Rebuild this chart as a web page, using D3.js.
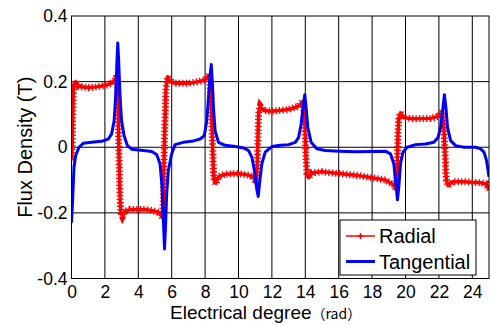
<!DOCTYPE html>
<html>
<head>
<meta charset="utf-8">
<script src="https://cdn.jsdelivr.net/npm/d3@7"></script>
<style>
	body { margin: 0; background: #ffffff; }
	text { font-family: "Liberation Sans", Arial, sans-serif; fill: #000; }
</style>
</head>
<body>
<svg id="chart" width="491" height="325"></svg>
<script>
// [electrical degree (rad), flux density (T)]
var radialData = [
	[0.02, -0.04], [0.04, 0.0], [0.06, 0.05], [0.08, 0.1], [0.1, 0.15], [0.13, 0.19], [0.25, 0.2],
	[0.45, 0.185], [1.0, 0.182], [1.5, 0.184], [2.0, 0.188], [2.4, 0.195], [2.6, 0.205], [2.72, 0.22],
	[2.78, 0.17], [2.8, 0.1], [2.82, 0.03], [2.85, -0.04], [2.88, -0.11], [2.92, -0.17], [2.96, -0.2],
	[3.05, -0.21], [3.2, -0.195], [3.5, -0.19], [4.0, -0.19], [4.5, -0.19], [5.0, -0.195], [5.3, -0.2],
	[5.45, -0.215], [5.5, -0.16], [5.52, -0.09], [5.55, -0.02], [5.58, 0.05], [5.62, 0.12], [5.66, 0.18],
	[5.75, 0.215], [5.9, 0.2], [6.2, 0.195], [7.0, 0.195], [7.6, 0.2], [8.0, 0.205], [8.25, 0.22],
	[8.35, 0.16], [8.4, 0.08], [8.45, 0.0], [8.5, -0.07], [8.55, -0.105], [8.65, -0.11], [8.8, -0.09],
	[9.2, -0.082], [10.0, -0.08], [10.6, -0.085], [10.9, -0.09], [11.05, -0.11], [11.12, -0.06],
	[11.15, 0.0], [11.18, 0.06], [11.22, 0.11], [11.3, 0.125], [11.5, 0.112], [12.0, 0.11], [13.0, 0.115],
	[13.6, 0.125], [13.85, 0.14], [13.95, 0.1], [14.0, 0.03], [14.05, -0.04], [14.1, -0.08], [14.2, -0.093],
	[14.4, -0.078], [15.0, -0.075], [16.0, -0.08], [17.0, -0.085], [18.0, -0.093], [18.8, -0.1],
	[19.3, -0.115], [19.45, -0.13], [19.5, -0.08], [19.52, -0.02], [19.55, 0.04], [19.6, 0.09],
	[19.7, 0.105], [19.9, 0.09], [20.5, 0.087], [21.5, 0.088], [22.0, 0.095], [22.2, 0.11], [22.3, 0.06],
	[22.35, 0.0], [22.4, -0.06], [22.45, -0.1], [22.55, -0.117], [22.8, -0.105], [23.5, -0.105],
	[24.5, -0.108], [24.85, -0.112], [25.0, -0.13]
];

var tangentialData = [
	[0.0, -0.23], [0.05, -0.18], [0.1, -0.12], [0.15, -0.06], [0.25, -0.025], [0.45, 0.0], [0.7, 0.012],
	[1.2, 0.015], [1.8, 0.018], [2.2, 0.025], [2.4, 0.04], [2.55, 0.08], [2.65, 0.16], [2.72, 0.26],
	[2.77, 0.318], [2.82, 0.27], [2.9, 0.16], [3.0, 0.08], [3.15, 0.035], [3.35, 0.005], [3.6, -0.006],
	[4.3, -0.01], [4.8, -0.013], [5.1, -0.022], [5.3, -0.05], [5.42, -0.12], [5.5, -0.22], [5.57, -0.31],
	[5.63, -0.24], [5.7, -0.14], [5.8, -0.07], [6.0, -0.02], [6.2, 0.008], [6.7, 0.015], [7.2, 0.018],
	[7.7, 0.025], [7.95, 0.035], [8.1, 0.08], [8.2, 0.15], [8.3, 0.22], [8.37, 0.252], [8.43, 0.2],
	[8.5, 0.12], [8.6, 0.05], [8.8, 0.015], [9.2, 0.006], [9.8, 0.002], [10.3, -0.002], [10.6, -0.01],
	[10.8, -0.03], [10.95, -0.07], [11.1, -0.13], [11.18, -0.15], [11.28, -0.1], [11.4, -0.05],
	[11.6, -0.015], [12.0, 0.002], [12.5, 0.006], [13.0, 0.008], [13.4, 0.015], [13.6, 0.03],
	[13.75, 0.07], [13.88, 0.13], [13.97, 0.16], [14.05, 0.12], [14.15, 0.06], [14.35, 0.015],
	[14.7, -0.005], [15.2, -0.01], [16.0, -0.012], [17.0, -0.014], [18.0, -0.013], [18.8, -0.012],
	[19.1, -0.02], [19.3, -0.05], [19.42, -0.11], [19.52, -0.16], [19.6, -0.12], [19.7, -0.05],
	[19.85, -0.015], [20.1, 0.0], [20.6, 0.008], [21.2, 0.01], [21.7, 0.015], [21.95, 0.03], [22.1, 0.06],
	[22.22, 0.11], [22.33, 0.16], [22.42, 0.12], [22.52, 0.06], [22.7, 0.02], [23.0, 0.005], [23.5, 0.0],
	[24.2, 0.0], [24.5, -0.005], [24.7, -0.015], [24.85, -0.04], [25.0, -0.09]
];

var xTicks = [0, 2, 4, 6, 8, 10, 12, 14, 16, 18, 20, 22, 24];
var yTicks = [-0.4, -0.2, 0, 0.2, 0.4];
var seriesNames = ["Radial", "Tangential"];
var seriesColors = ["#ff0000", "#0000ff"];

function drawChart() {
	var svg = d3.select("#chart");

	var margin = {top: 16, right: 2, bottom: 46.5, left: 71.5};
	var width = 491 - margin.left - margin.right;
	var height = 325 - margin.top - margin.bottom;

	var x = d3.scaleLinear()
		.domain([0, 25])
		.range([0, width]);

	var y = d3.scaleLinear()
		.domain([-0.4, 0.4])
		.range([height, 0]);

	var g = svg.append("g")
		.attr("transform", "translate(" + margin.left + "," + margin.top + ")");

	g.append("clipPath")
		.attr("id", "plotClip")
	.append("rect")
		.attr("width", width)
		.attr("height", height);

	// grid
	g.selectAll(".vgrid")
		.data(xTicks.filter((d) => d > 0))
	.enter().append("line")
		.attr("class", "vgrid")
		.attr("x1", (d) => x(d))
		.attr("x2", (d) => x(d))
		.attr("y1", 0)
		.attr("y2", height)
		.style("stroke", "#000")
		.style("stroke-width", 1);

	g.selectAll(".hgrid")
		.data(yTicks.filter((d) => d > -0.4 && d < 0.4))
	.enter().append("line")
		.attr("class", "hgrid")
		.attr("x1", 0)
		.attr("x2", width)
		.attr("y1", (d) => y(d))
		.attr("y2", (d) => y(d))
		.style("stroke", "#000")
		.style("stroke-width", 1);

	var line = d3.line()
		.x((d) => x(d[0]))
		.y((d) => y(d[1]));

	var plot = g.append("g")
		.attr("clip-path", "url(#plotClip)");

	// radial: dense "+" markers look like a ladder round a solid core
	plot.append("path")
		.datum(radialData)
		.attr("d", line)
		.style("fill", "none")
		.style("stroke", seriesColors[0])
		.style("stroke-width", 7)
		.style("stroke-dasharray", "1.3,2.2");

	plot.append("path")
		.datum(radialData)
		.attr("d", line)
		.style("fill", "none")
		.style("stroke", seriesColors[0])
		.style("stroke-width", 3.5)
		.style("stroke-linejoin", "round");

	plot.append("path")
		.datum(tangentialData)
		.attr("d", line)
		.style("fill", "none")
		.style("stroke", seriesColors[1])
		.style("stroke-width", 3)
		.style("stroke-linejoin", "round");

	// frame
	g.append("rect")
		.attr("width", width)
		.attr("height", height)
		.style("fill", "none")
		.style("stroke", "#000")
		.style("stroke-width", 1);

	var xAxis = g.append("g")
		.attr("transform", "translate(0," + height + ")")
		.call(d3.axisBottom(x).tickValues(xTicks).tickSize(0).tickPadding(7));

	var yAxis = g.append("g")
		.call(d3.axisLeft(y).tickValues(yTicks).tickSize(0).tickPadding(4)
			.tickFormat((d) => d === 0 ? "0" : d.toFixed(1)));

	[xAxis, yAxis].forEach((a) => {
		a.select(".domain").remove();
		a.selectAll("text")
			.style("font-family", "'Liberation Sans', Arial, sans-serif")
			.style("font-size", "17.5px")
			.style("fill", "#000");
	});

	// axis titles
	var xTitle = svg.append("text")
		.attr("x", 170)
		.attr("y", 319)
		.style("font-size", "19px");
	xTitle.append("tspan").text("Electrical degree");
	xTitle.append("tspan")
		.style("font-family", "'Noto Sans CJK JP', sans-serif")
		.style("font-size", "14px")
		.text("（rad）");

	svg.append("text")
		.attr("transform", "translate(32," + (margin.top + y(0)) + ") rotate(-90)")
		.attr("text-anchor", "middle")
		.style("font-size", "20px")
		.text("Flux Density (T)");

	// legend
	var legend = svg.append("g")
		.attr("transform", "translate(340,220)");

	legend.append("rect")
		.attr("width", 136)
		.attr("height", 55)
		.style("fill", "#fff")
		.style("stroke", "#000")
		.style("stroke-width", 1);

	var rows = legend.selectAll(".legendRow")
		.data(seriesNames)
	.enter().append("g")
		.attr("class", "legendRow")
		.attr("transform", (d, i) => "translate(0," + (16 + i * 25.5) + ")");

	rows.append("line")
		.attr("x1", 6)
		.attr("x2", 35)
		.style("stroke", (d, i) => seriesColors[i])
		.style("stroke-width", (d, i) => i === 0 ? 1.5 : 3);

	rows.filter((d, i) => i === 0).append("path")
		.attr("d", "M17.5,0H23.5M20.5,-3V3")
		.style("stroke", seriesColors[0])
		.style("stroke-width", 1.5);

	rows.append("text")
		.attr("x", 39)
		.attr("dy", "0.36em")
		.style("font-size", "20px")
		.text((d) => d);
}

drawChart();
</script>
</body>
</html>
